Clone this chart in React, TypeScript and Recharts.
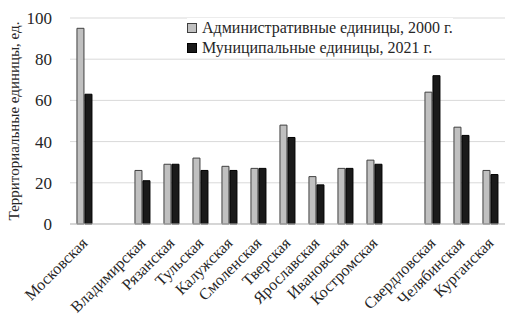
import React from 'react'
import { BarChart, Bar, XAxis, YAxis, CartesianGrid } from 'recharts'

// empty names keep the gaps between the region groups
const regions = [
  'Московская', '', 'Владимирская', 'Рязанская', 'Тульская', 'Калужская', 'Смоленская',
  'Тверская', 'Ярославская', 'Ивановская', 'Костромская', '', 'Свердловская', 'Челябинская', 'Курганская'
]
const admin2000 = [95, null, 26, 29, 32, 28, 27, 48, 23, 27, 31, null, 64, 47, 26]
const munic2021 = [63, null, 21, 29, 26, 26, 27, 42, 19, 27, 29, null, 72, 43, 24]
const yTicks = [0, 20, 40, 60, 80, 100]

const FONT = '"Liberation Serif", "Times New Roman", serif'
const TEXT = '#262626'

const data = regions.map((name, i) => ({ name, admin: admin2000[i], munic: munic2021[i] }))

const CategoryTick = ({ x, y, payload }: any) => {
  if (!payload.value) return null
  return (
    <text
      x={x + 4}
      y={y + 12}
      transform={`rotate(-45, ${x + 4}, ${y + 12})`}
      textAnchor="end"
      fontFamily={FONT}
      fontSize={16}
      fill={TEXT}
    >
      {payload.value}
    </text>
  )
}

const legendRows = [
  { label: 'Административные единицы, 2000 г.', fill: '#c0c0c0', stroke: '#404040' },
  { label: 'Муниципальные единицы, 2021 г.', fill: '#1a1a1a', stroke: '#000' }
]

export default function App() {
  return (
    <div style={{ position: 'absolute', left: 0, top: 0, width: 505, height: 324 }}>
      <BarChart
        width={505}
        height={324}
        data={data}
        margin={{ top: 18, right: 0, left: 0, bottom: 0 }}
        barCategoryGap="24%"
        barGap={1}
      >
        <CartesianGrid vertical={false} stroke="#d9d9d9" />
        <XAxis
          dataKey="name"
          interval={0}
          height={100}
          tickLine={false}
          axisLine={{ stroke: '#bfbfbf' }}
          tick={<CategoryTick />}
        />
        <YAxis
          width={70}
          domain={[0, 100]}
          ticks={yTicks}
          axisLine={false}
          tickLine={false}
          tickMargin={12}
          tick={{ fontFamily: FONT, fontSize: 17, fill: TEXT }}
          label={{
            value: 'Территориальные единицы, ед.',
            angle: -90,
            position: 'insideLeft',
            offset: 14,
            style: { textAnchor: 'middle', fontFamily: FONT, fontSize: 15, fill: TEXT }
          }}
        />
        <Bar dataKey="admin" fill="#c0c0c0" stroke="#404040" strokeWidth={1} isAnimationActive={false} />
        <Bar dataKey="munic" fill="#1a1a1a" stroke="#000" strokeWidth={1} isAnimationActive={false} />
      </BarChart>
      {/* legend box sits over the plot, top right */}
      <div style={{
        position: 'absolute', top: 18, left: 187, fontFamily: FONT, fontSize: 16,
        color: TEXT, lineHeight: '20px', background: '#fff'
      }}>
        {legendRows.map(r => (
          <div key={r.label} style={{ display: 'flex', alignItems: 'center', whiteSpace: 'nowrap' }}>
            <span style={{
              display: 'inline-block', width: 8, height: 8, background: r.fill,
              border: `1px solid ${r.stroke}`, marginRight: 5
            }} />
            {r.label}
          </div>
        ))}
      </div>
    </div>
  )
}
